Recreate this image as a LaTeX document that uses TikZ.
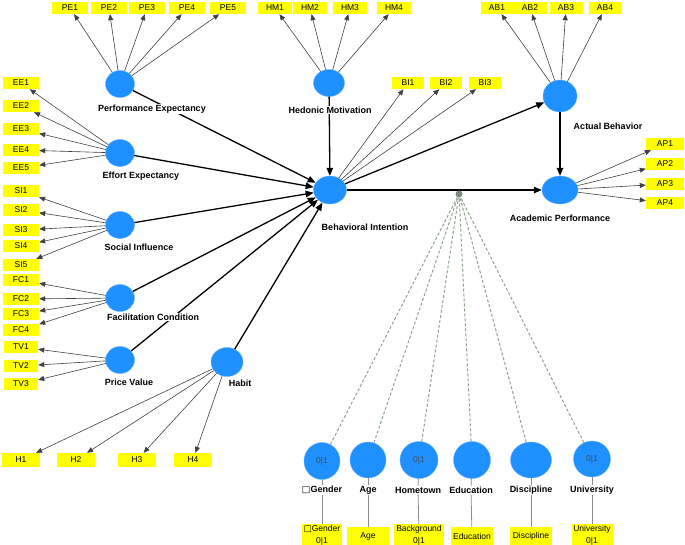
\documentclass[tikz,border=0pt]{standalone}
\usepackage{fontspec}
\setmainfont{Liberation Sans}
\newfontfamily\symfont{DejaVu Sans}
\usetikzlibrary{shapes.geometric, arrows.meta, positioning}
\definecolor{lvblue}{HTML}{1E90FF}
\definecolor{indyellow}{HTML}{FFFF00}
\definecolor{modgreen}{HTML}{8FA38F}
\definecolor{linkgray}{HTML}{8C8C8C}

\begin{document}
\begin{tikzpicture}[
  x=1pt, y=-1pt,
  latent/.style={ellipse, fill=lvblue, draw=lvblue!70!white, minimum width=29, minimum height=27, inner sep=0pt},
  indbox/.style={rectangle, fill=indyellow, minimum width=36, minimum height=12, inner sep=1pt, font=\fontsize{8.5}{10}\selectfont},
  lvlabel/.style={fill=white, inner sep=1pt, font=\fontsize{9}{11}\selectfont\bfseries},
  loading/.style={-{Triangle[length=6pt,width=5pt]}, draw=black!75, line width=0.6pt},
  structural/.style={-{Triangle[length=8pt,width=6.5pt]}, draw=black, line width=1.3pt},
  modline/.style={draw=modgreen, line width=1pt, dash pattern=on 3pt off 2pt},
  ctrlline/.style={draw=linkgray, line width=0.8pt},
  ctrlbox/.style={rectangle, fill=indyellow, minimum width=42, minimum height=18, inner sep=1pt, align=center, font=\fontsize{8.5}{12}\selectfont},
  oneone/.style={font=\fontsize{8.5}{10}\selectfont, text=black!70}
]
  \useasboundingbox (0,0) rectangle (685,544);
  \clip (0,0) rectangle (685,544);

  % Latent variables
  \node[latent] (pe) at (120,84) {};
  \node[latent, minimum width=31] (hm) at (329,83) {};
  \node[latent] (ee) at (120,153) {};
  \node[latent] (si) at (120,225) {};
  \node[latent] (fc) at (120,298) {};
  \node[latent] (pv) at (120,360) {};
  \node[latent, minimum width=32, minimum height=29] (hb) at (227,362) {};
  \node[latent, minimum width=33, minimum height=28] (bi) at (330,190) {};
  \node[latent, minimum width=34, minimum height=32] (ab) at (560,96) {};
  \node[latent, minimum width=36, minimum height=28] (ap) at (560,190) {};

  % Indicators
  \foreach \n/\x in {1/70,2/109,3/147,4/187,5/228}
    \node[indbox] (pe\n) at (\x,8) {PE\n};
  \foreach \n/\x in {1/275,2/310,3/350,4/394}
    \node[indbox, minimum width=34] (hm\n) at (\x,8) {HM\n};
  \foreach \n/\x in {1/497,2/530,3/566,4/605}
    \node[indbox, minimum width=33] (ab\n) at (\x,8) {AB\n};
  \foreach \n/\x in {1/408,2/446,3/485}
    \node[indbox, minimum width=32] (bi\n) at (\x,83) {BI\n};
  \foreach \n/\y in {1/144,2/164,3/184,4/203}
    \node[indbox, minimum width=38] (ap\n) at (665,\y) {AP\n};
  \foreach \n/\y in {1/83,2/106,3/129,4/150,5/168}
    \node[indbox] (ee\n) at (21,\y) {EE\n};
  \foreach \n/\y in {1/191,2/210,3/230,4/246,5/265}
    \node[indbox] (si\n) at (21,\y) {SI\n};
  \foreach \n/\y in {1/280,2/299,3/314,4/330}
    \node[indbox] (fc\n) at (21,\y) {FC\n};
  \foreach \n/\y in {1/347,2/366,3/384}
    \node[indbox, minimum width=34] (tv\n) at (21,\y) {TV\n};
  \foreach \n/\x in {1/21,2/76,3/137,4/193}
    \node[indbox, minimum width=38, minimum height=14] (h\n) at (\x,460) {H\n};

  % Loadings
  \foreach \n in {1,...,5} \draw[loading] (pe) -- (pe\n);
  \foreach \n in {1,...,4} \draw[loading] (hm) -- (hm\n);
  \foreach \n in {1,...,4} \draw[loading] (ab) -- (ab\n);
  \foreach \n in {1,...,3} \draw[loading] (bi) -- (bi\n);
  \foreach \n in {1,...,4} \draw[loading] (ap) -- (ap\n);
  \foreach \n in {1,...,5} \draw[loading] (ee) -- (ee\n);
  \foreach \n in {1,...,5} \draw[loading] (si) -- (si\n);
  \foreach \n in {1,...,4} \draw[loading] (fc) -- (fc\n);
  \foreach \n in {1,...,3} \draw[loading] (pv) -- (tv\n);
  \foreach \n in {1,...,4} \draw[loading] (hb) -- (h\n);

  % Structural paths
  \draw[structural] (pe) -- (bi);
  \draw[structural] (hm) -- (bi);
  \draw[structural] (ee) -- (bi);
  \draw[structural] (si) -- (bi);
  \draw[structural] (fc) -- (bi);
  \draw[structural] (pv) -- (bi);
  \draw[structural] (hb) -- (bi);
  \draw[structural] (bi) -- (ab);
  \draw[structural] (bi) -- (ap);
  \draw[structural] (ab) -- (ap);

  % Control variables
  \node[latent, minimum width=36, minimum height=37, oneone] (gen) at (322,461) {0|1};
  \node[latent, minimum width=36, minimum height=36] (age) at (368,460) {};
  \node[latent, minimum width=38, minimum height=37, oneone] (home) at (419,460) {0|1};
  \node[latent, minimum width=37, minimum height=37] (edu) at (472,460) {};
  \node[latent, minimum width=41, minimum height=36] (disc) at (531,460) {};
  \node[latent, minimum width=37, minimum height=36, oneone] (uni) at (592,459) {0|1};

  \node[circle, fill=modgreen!85!black, minimum size=7, inner sep=0pt] (mod) at (459,194) {};
  \foreach \c in {gen,age,home,edu,disc,uni} \draw[modline] (\c) -- (mod);

  \node[lvlabel] (genl) at (322,490) {{\symfont □}Gender};
  \node[lvlabel] (agel) at (368,490) {Age};
  \node[lvlabel] (homel) at (418,490) {Hometown};
  \node[lvlabel] (edul) at (471,490) {Education};
  \node[lvlabel] (discl) at (531,490) {Discipline};
  \node[lvlabel] (unil) at (592,490) {University};

  \node[ctrlbox, minimum width=40] (genb) at (322,535) {{\symfont □}Gender\\0|1};
  \node[ctrlbox] (ageb) at (368,536) {Age};
  \node[ctrlbox, minimum width=50] (homeb) at (419,535) {Background\\0|1};
  \node[ctrlbox] (edub) at (472,536) {Education};
  \node[ctrlbox] (discb) at (531,536) {Discipline};
  \node[ctrlbox, minimum width=41] (unib) at (592,535) {University\\0|1};

  \draw[ctrlline] (gen) -- (genl) -- (genb);
  \draw[ctrlline] (age) -- (agel) -- (ageb);
  \draw[ctrlline] (home) -- (homel) -- (homeb);
  \draw[ctrlline] (edu) -- (edul) -- (edub);
  \draw[ctrlline] (disc) -- (discl) -- (discb);
  \draw[ctrlline] (uni) -- (unil) -- (unib);

  % Construct labels
  \node[lvlabel] at (152,109) {Performance Expectancy};
  \node[lvlabel] at (330,110) {Hedonic Motivation};
  \node[lvlabel] at (141,176) {Effort Expectancy};
  \node[lvlabel] at (139,247) {Social Influence};
  \node[lvlabel] at (153,317) {Facilitation Condition};
  \node[lvlabel] at (129,382) {Price Value};
  \node[lvlabel] at (240,383) {Habit};
  \node[lvlabel] at (365,227) {Behavioral Intention};
  \node[lvlabel] at (608,126) {Actual Behavior};
  \node[lvlabel] at (560,218) {Academic Performance};
\end{tikzpicture}
\end{document}
